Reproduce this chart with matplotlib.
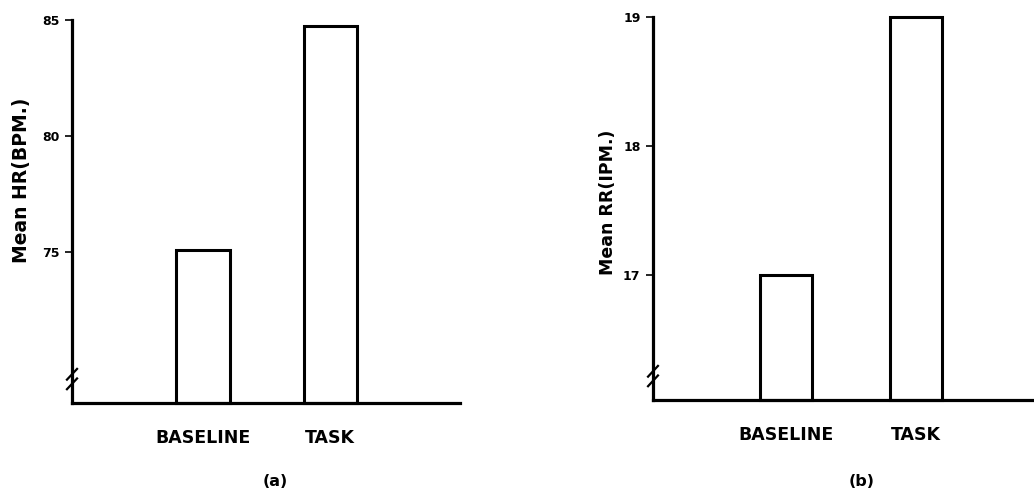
import matplotlib.pyplot as plt

plt.rcParams['font.family'] = ['DejaVu Sans']
plt.rcParams['font.weight'] = 'bold'

categories = ['BASELINE', 'TASK']
hr_values = [75.1, 84.75]
rr_values = [17.0, 19.0]
hr_ticks = [75, 80, 85]
rr_ticks = [17, 18, 19]

fig = plt.figure(figsize=(10.34, 5.0), dpi=100)

def panel(rect, values, ticks, ylim, xlim, width, ylabel, label_xy, label_size, letter, letter_xy):
    ax = fig.add_axes(rect)
    x = range(len(categories))
    heights = [v - ylim[0] for v in values]
    ax.bar(x, heights, width=width, bottom=ylim[0], color='white', edgecolor='black',
           linewidth=2.2, clip_on=False)
    ax.set_ylim(ylim)
    ax.set_xlim(xlim)
    for s in ['top', 'right']:
        ax.spines[s].set_visible(False)
    for s in ['left', 'bottom']:
        ax.spines[s].set_linewidth(2.3)
    ax.set_xticks(list(x))
    ax.set_xticklabels(categories, fontsize=12.5, fontweight='bold')
    ax.tick_params(axis='x', length=0, pad=19)
    ax.set_yticks(ticks)
    ax.set_yticklabels([str(t) for t in ticks], fontsize=9, fontweight='bold')
    ax.tick_params(axis='y', length=5, width=1.2, pad=4)
    # axis break marks
    for dy in (0.05, 0.075):
        ax.plot([-0.013, 0.013], [dy - 0.014, dy + 0.014], color='black', lw=1.6,
                transform=ax.transAxes, clip_on=False)
    fig.text(label_xy[0], label_xy[1], ylabel, rotation=90, ha='center', va='center',
             fontsize=label_size, fontweight='bold')
    fig.text(letter_xy[0], letter_xy[1], letter, ha='center', va='center',
             fontsize=11.5, fontweight='bold')
    return ax

panel([72 / 1034, 97 / 500, 388 / 1034, 383 / 500], hr_values, hr_ticks,
      (68.49, 85.0), (-1.03, 2.02), 0.42, 'Mean HR(BPM.)',
      (22 / 1034, 1 - 180 / 500), 13.5, '(a)', (275 / 1034, 1 - 482 / 500))

panel([653 / 1034, 100 / 500, 381 / 1034, 383 / 500], rr_values, rr_ticks,
      (16.03, 19.0), (-1.02, 1.91), 0.40, 'Mean RR(IPM.)',
      (608 / 1034, 1 - 202 / 500), 12.5, '(b)', (862 / 1034, 1 - 482 / 500))

fig.savefig('out.png', dpi=100)
